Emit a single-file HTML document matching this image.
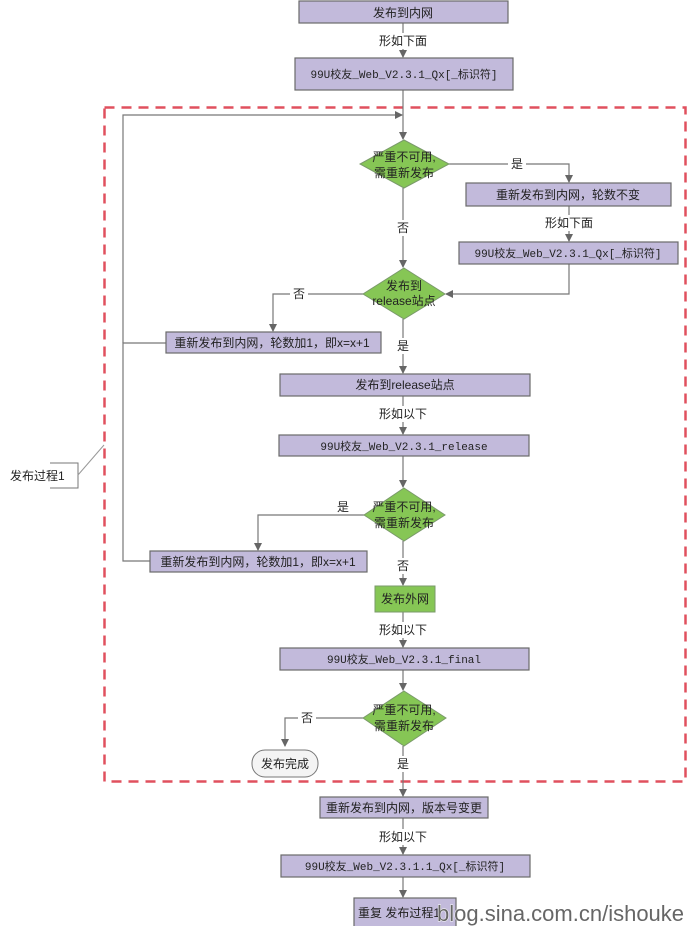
<!DOCTYPE html>
<html><head><meta charset="utf-8"><style>
html,body{margin:0;padding:0;background:#fff;}
svg{display:block;}
text{font-family:"Liberation Sans","Noto Sans CJK SC",sans-serif;font-size:12px;fill:#222;}
.m{font-family:"Liberation Mono","Noto Sans CJK SC",monospace;font-size:11px;}
.b{fill:#c2badb;stroke:#6a6a6a;stroke-width:1.2;}
.g{fill:#86c655;stroke:#7a9a6a;stroke-width:1;}
.l{stroke:#777;stroke-width:1.2;fill:none;}
.wm{font-size:22px;fill:#666;stroke:#fff;stroke-width:1;paint-order:stroke;}
</style></head><body>
<svg width="690" height="926" viewBox="0 0 690 926" xmlns="http://www.w3.org/2000/svg">
<defs><marker id="a" markerWidth="8" markerHeight="8" refX="7" refY="4" orient="auto" markerUnits="userSpaceOnUse"><path d="M0,0 L8,4 L0,8 z" fill="#666"/></marker></defs>
<rect x="104.5" y="107.5" width="581" height="674" fill="none" stroke="#e0505e" stroke-width="2.5" stroke-dasharray="10,7"/>
<path class="l" d="M403,23 V57" marker-end="url(#a)"/>
<path class="l" d="M403,90 V139" marker-end="url(#a)"/>
<path class="l" d="M123,343 V115 H402" marker-end="url(#a)"/>
<path class="l" d="M449,164 H569 V182" marker-end="url(#a)"/>
<path class="l" d="M569,206 V241" marker-end="url(#a)"/>
<path class="l" d="M569,264 V294 H446" marker-end="url(#a)"/>
<path class="l" d="M403,188 V267" marker-end="url(#a)"/>
<path class="l" d="M363,294 H273 V331" marker-end="url(#a)"/>
<path class="l" d="M166,343 H123 V561 H150"/>
<path class="l" d="M403,319 V373" marker-end="url(#a)"/>
<path class="l" d="M403,396 V434" marker-end="url(#a)"/>
<path class="l" d="M403,456 V487" marker-end="url(#a)"/>
<path class="l" d="M364,515 H258 V550" marker-end="url(#a)"/>
<path class="l" d="M403,541 V585" marker-end="url(#a)"/>
<path class="l" d="M403,612 V647" marker-end="url(#a)"/>
<path class="l" d="M403,670 V690" marker-end="url(#a)"/>
<path class="l" d="M363,718 H285 V746" marker-end="url(#a)"/>
<path class="l" d="M403,746 V796" marker-end="url(#a)"/>
<path class="l" d="M403,818 V854" marker-end="url(#a)"/>
<path class="l" d="M403,877 V897" marker-end="url(#a)"/>
<g fill="#fff">
<rect x="375" y="33" width="56" height="16"/><rect x="394" y="220" width="18" height="16"/>
<rect x="508" y="156" width="18" height="16"/><rect x="541" y="215" width="56" height="16"/>
<rect x="290" y="286" width="18" height="16"/><rect x="394" y="338" width="18" height="16"/>
<rect x="375" y="406" width="56" height="16"/><rect x="394" y="558" width="18" height="16"/>
<rect x="375" y="622" width="56" height="16"/><rect x="298" y="710" width="18" height="16"/>
<rect x="394" y="756" width="18" height="16"/><rect x="375" y="829" width="56" height="16"/>
</g>
<g text-anchor="middle">
<text x="403" y="45">形如下面</text><text x="403" y="232">否</text>
<text x="517" y="168">是</text><text x="569" y="227">形如下面</text>
<text x="299" y="298">否</text><text x="403" y="350">是</text>
<text x="403" y="418">形如以下</text><text x="343" y="511">是</text>
<text x="403" y="570">否</text><text x="403" y="634">形如以下</text>
<text x="307" y="722">否</text><text x="403" y="768">是</text>
<text x="403" y="841">形如以下</text>
</g>
<rect class="b" x="299" y="1" width="209" height="22"/><text x="403" y="17" text-anchor="middle">发布到内网</text>
<rect class="b" x="295" y="58" width="218" height="32"/><text class="m" x="404" y="78" text-anchor="middle">99U校友_Web_V2.3.1_Qx[_标识符]</text>
<polygon class="g" points="404,140 449,164 404,188 360,164"/>
<text x="404" y="161" text-anchor="middle">严重不可用,</text><text x="404" y="177" text-anchor="middle">需重新发布</text>
<rect class="b" x="466" y="183" width="205" height="23"/><text x="568" y="199" text-anchor="middle">重新发布到内网，轮数不变</text>
<rect class="b" x="459" y="242" width="219" height="22"/><text class="m" x="568" y="257" text-anchor="middle">99U校友_Web_V2.3.1_Qx[_标识符]</text>
<polygon class="g" points="404,268 445,294 404,319 363,294"/>
<text x="404" y="290" text-anchor="middle">发布到</text><text x="404" y="305" text-anchor="middle">release站点</text>
<rect class="b" x="166" y="332" width="215" height="21"/><text x="272" y="347" text-anchor="middle">重新发布到内网，轮数加1，即x=x+1</text>
<rect class="b" x="280" y="374" width="250" height="22"/><text x="405" y="389" text-anchor="middle">发布到release站点</text>
<rect class="b" x="279" y="435" width="250" height="21"/><text class="m" x="404" y="450" text-anchor="middle">99U校友_Web_V2.3.1_release</text>
<polygon class="g" points="404,488 445,515 404,541 364,515"/>
<text x="404" y="511" text-anchor="middle">严重不可用,</text><text x="404" y="527" text-anchor="middle">需重新发布</text>
<rect class="b" x="150" y="551" width="217" height="21"/><text x="258" y="566" text-anchor="middle">重新发布到内网，轮数加1，即x=x+1</text>
<rect class="g" x="375" y="586" width="60" height="26"/><text x="405" y="603" text-anchor="middle">发布外网</text>
<rect class="b" x="280" y="648" width="249" height="22"/><text class="m" x="404" y="663" text-anchor="middle">99U校友_Web_V2.3.1_final</text>
<polygon class="g" points="404,691 446,718 404,746 363,718"/>
<text x="404" y="714" text-anchor="middle">严重不可用,</text><text x="404" y="730" text-anchor="middle">需重新发布</text>
<rect x="252" y="750" width="66" height="27" rx="13" fill="#f4f4f4" stroke="#777"/><text x="285" y="768" text-anchor="middle">发布完成</text>
<rect class="b" x="320" y="797" width="168" height="21"/><text x="404" y="812" text-anchor="middle">重新发布到内网，版本号变更</text>
<rect class="b" x="281" y="855" width="249" height="22"/><text class="m" x="405" y="870" text-anchor="middle">99U校友_Web_V2.3.1.1_Qx[_标识符]</text>
<rect class="b" x="354" y="898" width="102" height="30"/><text x="358" y="917">重复 发布过程1</text>
<path d="M50,463 H78 V488 H50" fill="none" stroke="#777"/><path d="M78,475 L104,445" stroke="#999" fill="none"/>
<text x="10" y="480">发布过程1</text>
<text class="wm" x="437" y="921">blog.sina.com.cn/ishouke</text>
</svg>
</body></html>
